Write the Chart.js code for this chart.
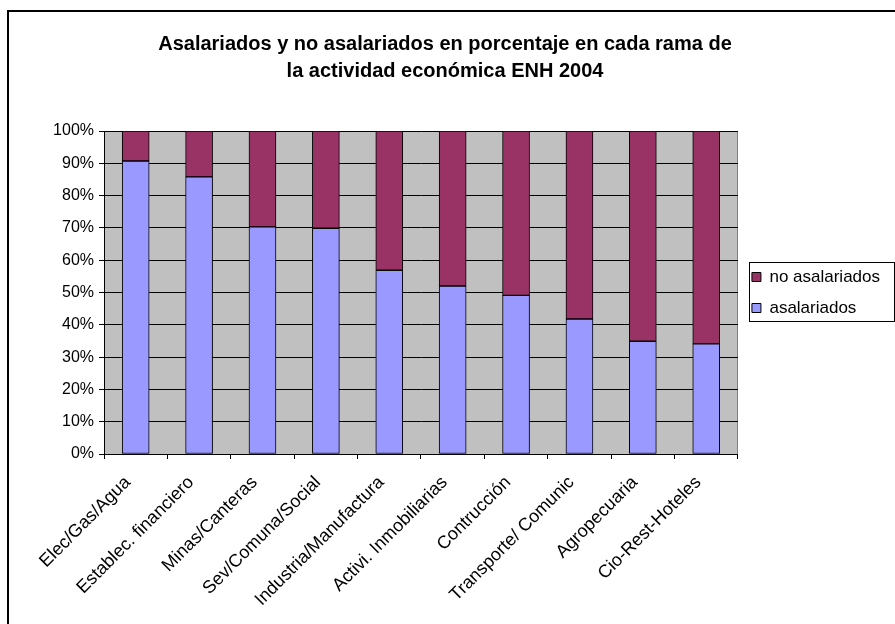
<!DOCTYPE html>
<html>
<head>
<meta charset="utf-8">
<script src="https://cdn.jsdelivr.net/npm/chart.js@4.4.1/dist/chart.umd.min.js"></script>
<style>
  html, body { margin: 0; padding: 0; background: #fff; }
  #wrap { width: 895px; height: 624px; position: relative; }
</style>
</head>
<body>
<div id="wrap"><canvas id="chart"></canvas></div>
<script>
// ── Data ──────────────────────────────────────────────────────────
const categories = [
  'Elec/Gas/Agua', 'Establec. financiero', 'Minas/Canteras', 'Sev/Comuna/Social',
  'Industria/Manufactura', 'Activi. Inmobiliarias', 'Contrucción',
  'Transporte/ Comunic', 'Agropecuaria', 'Cio-Rest-Hoteles'
];
const asalariados   = [90.7, 85.8, 70.3, 69.9, 56.9, 52.0, 49.1, 41.8, 34.9, 34.1];
const noAsalariados = [9.3, 14.2, 29.7, 30.1, 43.1, 48.0, 50.9, 58.2, 65.1, 65.9];
const titleLines = ['Asalariados y no asalariados en porcentaje en cada rama de', 'la actividad económica ENH 2004'];

const COLORS = {
  blue: '#9999FF',
  maroon: '#993366',
  plot: '#C0C0C0',
  plotBorder: '#808080',
  black: '#000000',
};

Chart.defaults.font.family = 'Arial, "Liberation Sans", sans-serif';
Chart.defaults.color = COLORS.black;

// grey plot area, outer chart frame, legend box
const framePlugin = {
  id: 'frame',
  beforeDraw(chart) {
    const { ctx, chartArea: a } = chart;
    ctx.save();
    ctx.fillStyle = COLORS.plot;
    ctx.fillRect(a.left, a.top, a.right - a.left, a.bottom - a.top);
    ctx.strokeStyle = COLORS.plotBorder;
    ctx.lineWidth = 1;
    ctx.strokeRect(Math.round(a.left) + 0.5, Math.round(a.top) + 0.5,
      Math.round(a.right - a.left) - 1, Math.round(a.bottom - a.top));
    ctx.strokeStyle = COLORS.black;
    ctx.lineWidth = 2;
    ctx.beginPath();
    ctx.moveTo(8, chart.height);
    ctx.lineTo(8, 11);
    ctx.lineTo(chart.width, 11);
    ctx.stroke();
    ctx.restore();
  },
  afterDraw(chart) {
    const boxes = chart.legend && chart.legend.legendHitBoxes;
    if (!boxes || !boxes.length) return;
    const { ctx } = chart;
    const left = Math.min(...boxes.map(b => b.left)) - 3;
    const top = Math.min(...boxes.map(b => b.top)) - 7;
    const bottom = Math.max(...boxes.map(b => b.top + b.height)) + 4;
    ctx.save();
    ctx.strokeStyle = COLORS.black;
    ctx.lineWidth = 1;
    ctx.strokeRect(Math.round(left) + 0.5, Math.round(top) + 0.5,
      chart.width - 1 - Math.round(left), Math.round(bottom - top));
    ctx.restore();
  }
};

new Chart(document.getElementById('chart'), {
  type: 'bar',
  data: {
    labels: categories,
    datasets: [
      {
        label: 'asalariados',
        data: asalariados,
        backgroundColor: COLORS.blue,
        borderColor: COLORS.black,
        borderWidth: 1,
        borderSkipped: false,
        barThickness: 27,
      },
      {
        label: 'no asalariados',
        data: noAsalariados,
        backgroundColor: COLORS.maroon,
        borderColor: COLORS.black,
        borderWidth: 1,
        borderSkipped: false,
        barThickness: 27,
      },
    ],
  },
  options: {
    responsive: true,
    maintainAspectRatio: false,
    animation: false,
    devicePixelRatio: 1,
    layout: { padding: { left: 0, right: 5, top: 0, bottom: 0 } },
    plugins: {
      title: {
        display: true,
        text: titleLines,
        font: { size: 20, weight: 'bold', lineHeight: 1.35 },
        color: COLORS.black,
        padding: { top: 31, bottom: 46 },
      },
      legend: {
        position: 'right',
        fullSize: false,
        reverse: true,
        labels: {
          boxWidth: 9,
          boxHeight: 9,
          padding: 14,
          font: { size: 17 },
          color: COLORS.black,
        },
      },
      tooltip: { enabled: false },
    },
    scales: {
      x: {
        stacked: true,
        afterFit: s => { s.height = 170; },
        grid: {
          drawOnChartArea: false,
          offset: true,
          color: COLORS.black,
          tickLength: 5,
        },
        border: { color: COLORS.black },
        ticks: {
          minRotation: 45,
          maxRotation: 45,
          autoSkip: false,
          padding: 13,
          labelOffset: -8,
          font: { size: 18 },
          color: COLORS.black,
        },
      },
      y: {
        stacked: true,
        min: 0,
        max: 100,
        afterFit: s => { s.width = 104; },
        grid: {
          color: COLORS.black,
          tickLength: 5,
          tickColor: COLORS.black,
        },
        border: { color: COLORS.black },
        ticks: {
          stepSize: 10,
          padding: 5,
          font: { size: 16 },
          color: COLORS.black,
          callback: v => v + '%',
        },
      },
    },
  },
  plugins: [framePlugin],
});
</script>
</body>
</html>
